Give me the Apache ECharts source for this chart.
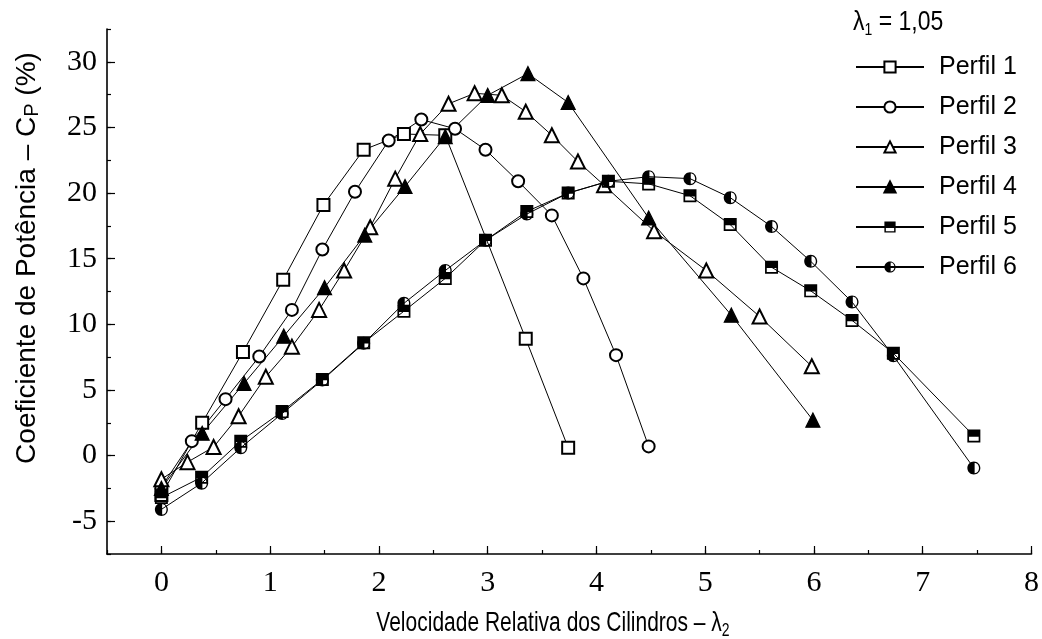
<!DOCTYPE html>
<html>
<head>
<meta charset="utf-8">
<script src="https://cdn.jsdelivr.net/npm/echarts@6/dist/echarts.min.js"></script>
<style>
  html, body { margin: 0; padding: 0; background: #fff; }
  #chart { width: 1042px; height: 639px; }
</style>
</head>
<body>
<div id="chart"></div>
<script>
// valores (lambda2, Cp %)
var perfil1X = [0, 0.375, 0.75, 1.12, 1.49, 1.86, 2.23, 2.61, 3.35, 3.74];
var perfil1Y = [-3.0, 2.5, 7.9, 13.4, 19.1, 23.3, 24.5, 24.4, 8.9, 0.6];

var perfil2X = [0, 0.28, 0.59, 0.9, 1.2, 1.48, 1.78, 2.09, 2.39, 2.7, 2.98, 3.28, 3.59, 3.88, 4.18, 4.48];
var perfil2Y = [-2.4, 1.1, 4.3, 7.55, 11.1, 15.7, 20.1, 24.0, 25.6, 24.9, 23.3, 20.9, 18.3, 13.5, 7.65, 0.7];

var perfil3X = [0, 0.24, 0.48, 0.71, 0.96, 1.2, 1.45, 1.68, 1.92, 2.15, 2.38, 2.64, 2.88, 3.13, 3.35, 3.59, 3.83, 4.07, 4.53, 5.01, 5.5, 5.98];
var perfil3Y = [-1.8, -0.5, 0.65, 3.0, 6.0, 8.3, 11.1, 14.1, 17.4, 21.1, 24.5, 26.8, 27.6, 27.45, 26.2, 24.4, 22.4, 20.6, 17.1, 14.1, 10.6, 6.8];

var perfil4X = [0, 0.375, 0.76, 1.125, 1.5, 1.87, 2.24, 2.61, 3.0, 3.37, 3.74, 4.48, 5.24, 5.99];
var perfil4Y = [-2.5, 1.7, 5.5, 9.1, 12.8, 16.8, 20.5, 24.3, 27.45, 29.1, 26.9, 18.1, 10.7, 2.7];

var perfil56X = [0, 0.37, 0.73, 1.11, 1.48, 1.86, 2.23, 2.61, 2.98, 3.36, 3.74, 4.11, 4.48, 4.86, 5.23, 5.61, 5.97, 6.35, 6.73, 7.47];
var perfil5Y = [-3.2, -1.65, 1.1, 3.35, 5.8, 8.6, 11.0, 13.5, 16.4, 18.6, 20.0, 20.9, 20.7, 19.8, 17.6, 14.35, 12.55, 10.3, 7.8, 1.5];
var perfil6Y = [-4.1, -2.1, 0.6, 3.2, 5.75, 8.55, 11.6, 14.1, 16.4, 18.4, 20.0, 20.9, 21.25, 21.1, 19.65, 17.45, 14.8, 11.7, 7.6, -0.95];

var nomes = ['Perfil 1', 'Perfil 2', 'Perfil 3', 'Perfil 4', 'Perfil 5', 'Perfil 6'];
var xTicks = [0, 1, 2, 3, 4, 5, 6, 7, 8];
var yTicks = [-5, 0, 5, 10, 15, 20, 25, 30];

function pares(xs, ys) {
  var out = [];
  for (var i = 0; i < xs.length; i++) out.push([xs[i], ys[i]]);
  return out;
}

// simbolos meio preenchidos (furo com sentido contrario)
var quadMeio = 'path://M0 0H10V10H0Z M1.3 5.6V8.7H8.7V5.6Z';
var circMeio = 'path://M5 0C2.239 0 0 2.239 0 5C0 7.761 2.239 10 5 10C7.761 10 10 7.761 10 5C10 2.239 7.761 0 5 0Z'
  + ' M5.6 1.05C7.6 1.05 8.95 2.8 8.95 5C8.95 7.2 7.6 8.95 5.6 8.95Z';

var chart = echarts.init(document.getElementById('chart'));
var preto = '#000';
var serif = 'Liberation Serif';
var sans = 'Liberation Sans';

function serie(nome, dados, simbolo, tam, borda) {
  return {
    name: nome,
    type: 'line',
    data: dados,
    symbol: simbolo,
    symbolSize: tam,
    showAllSymbol: true,
    lineStyle: { color: preto, width: 1 },
    itemStyle: { color: preto, borderColor: preto, borderWidth: borda }
  };
}

var option = {
  animation: false,
  backgroundColor: '#fff',
  grid: { left: 107, right: 7, top: 29, bottom: 85 },
  legend: {
    orient: 'vertical',
    left: 850,
    top: 49,
    itemWidth: 68,
    itemHeight: 14,
    itemGap: 14,
    data: nomes,
    textStyle: { fontFamily: sans, fontSize: 25, color: preto, lineHeight: 26, padding: [0, 0, 0, 10] }
  },
  xAxis: [
    {
      type: 'value', min: -0.5, max: 8, interval: 0.5,
      axisLine: { onZero: false, lineStyle: { color: preto, width: 1.6 } },
      axisTick: { inside: true, length: 4, lineStyle: { color: preto, width: 1.2 } },
      axisLabel: { show: false },
      splitLine: { show: false }
    },
    {
      type: 'value', min: -0.5, max: 8, position: 'bottom',
      axisLine: { show: false, onZero: false },
      axisTick: { inside: true, length: 8, customValues: xTicks, lineStyle: { color: preto, width: 1.2 } },
      axisLabel: { customValues: xTicks, fontFamily: serif, fontSize: 30, color: preto, margin: 14 },
      splitLine: { show: false }
    }
  ],
  yAxis: [
    {
      type: 'value', min: -7.5, max: 32.5, interval: 2.5,
      axisLine: { show: true, onZero: false, lineStyle: { color: preto, width: 1.6 } },
      axisTick: { show: true, inside: true, length: 4, lineStyle: { color: preto, width: 1.2 } },
      axisLabel: { show: false },
      splitLine: { show: false }
    },
    {
      type: 'value', min: -7.5, max: 32.5, position: 'left',
      axisLine: { show: false, onZero: false },
      axisTick: { show: true, inside: true, length: 8, customValues: yTicks, lineStyle: { color: preto, width: 1.2 } },
      axisLabel: { customValues: yTicks, fontFamily: serif, fontSize: 30, color: preto, margin: 10 },
      splitLine: { show: false }
    }
  ],
  graphic: [
    {
      type: 'text', x: 853, y: 22, scaleY: 1.2,
      style: {
        text: '{a|λ}{s|1}{a| = 1,05}',
        verticalAlign: 'middle',
        rich: {
          a: { fontFamily: sans, fontSize: 23, fill: preto, lineHeight: 28 },
          s: { fontFamily: sans, fontSize: 14, fill: preto, verticalAlign: 'bottom', lineHeight: 22 }
        }
      }
    },
    {
      type: 'text', x: 27, y: 258, rotation: Math.PI / 2,
      style: {
        text: '{a|Coeficiente de Potência – C}{s|P}{a| (%)}',
        align: 'center', verticalAlign: 'middle',
        rich: {
          a: { fontFamily: sans, fontSize: 28, fill: preto, lineHeight: 30 },
          s: { fontFamily: sans, fontSize: 20, fill: preto, verticalAlign: 'bottom', lineHeight: 26 }
        }
      }
    },
    {
      type: 'text', x: 553, y: 623, scaleY: 1.3,
      style: {
        text: '{a|Velocidade Relativa dos Cilindros – λ}{s|2}',
        align: 'center', verticalAlign: 'middle',
        rich: {
          a: { fontFamily: sans, fontSize: 21, fill: preto, lineHeight: 26 },
          s: { fontFamily: sans, fontSize: 14, fill: preto, verticalAlign: 'bottom', lineHeight: 20 }
        }
      }
    }
  ],
  series: [
    serie('Perfil 1', pares(perfil1X, perfil1Y), 'emptyRect', 12, 1.2),
    serie('Perfil 2', pares(perfil2X, perfil2Y), 'emptyCircle', 12, 1.2),
    serie('Perfil 3', pares(perfil3X, perfil3Y), 'emptyTriangle', 14, 1.2),
    serie('Perfil 4', pares(perfil4X, perfil4Y), 'triangle', 14, 1.2),
    serie('Perfil 5', pares(perfil56X, perfil5Y), quadMeio, 13, 0),
    serie('Perfil 6', pares(perfil56X, perfil6Y), circMeio, 13, 0)
  ]
};

chart.setOption(option);
window.onresize = chart.resize;
</script>
</body>
</html>
